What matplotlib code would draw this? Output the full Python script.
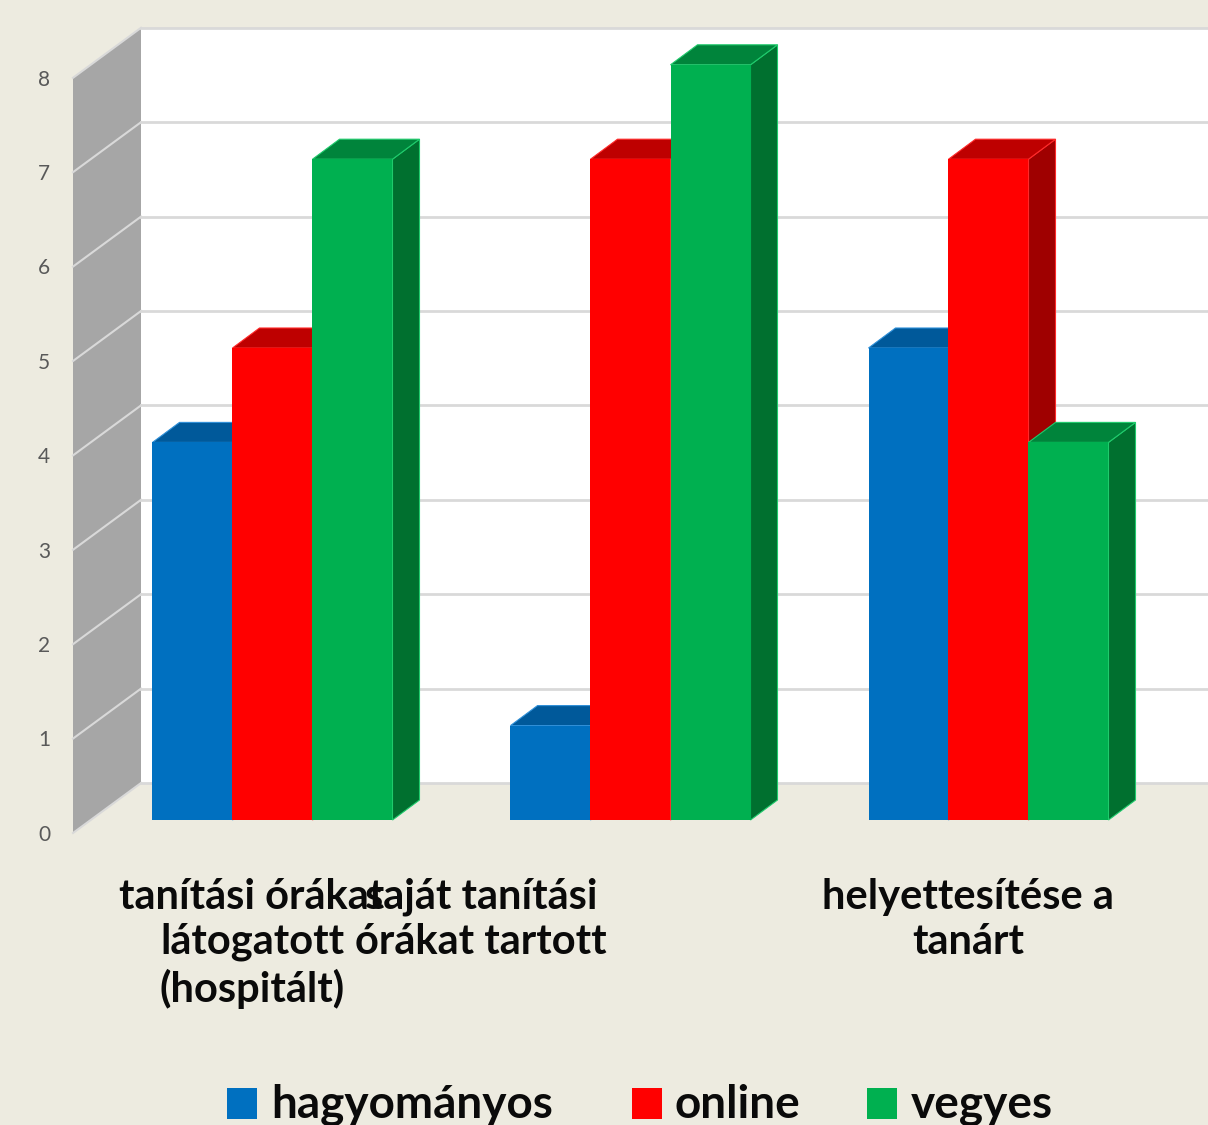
import matplotlib
matplotlib.use("Agg")
import matplotlib.pyplot as plt
import numpy as np

plt.rcParams['font.family'] = ['Lato', 'DejaVu Sans']

series_names = ['hagyományos', 'online', 'vegyes']
hagyomanyos = [4, 1, 5]
online = [5, 7, 7]
vegyes = [7, 8, 4]
yticks = [0, 1, 2, 3, 4, 5, 6, 7, 8]
cat_labels = ['tanítási órákat\nlátogatott\n(hospitált)',
              'saját tanítási\nórákat tartott',
              'helyettesítése a\ntanárt']

front = ['#0070C0', '#FF0000', '#00B050']
top = ['#00599A', '#BE0000', '#00843B']
side = ['#005390', '#9F0000', '#00702F']
edge = ['#2E8FD8', '#FF2A2A', '#1FCB6C']
bg = '#EDEBE0'

W, H = 1208, 1125
x0, sx = 272.5, 358.0   # pixel of group 0, pixels per group
y0, sy = 820.0, 94.4    # pixel of value 0, pixels per unit
bar_w = 80 / sx
dx, dy = 27 / sx, 20 / sy


def X(px):
    return (px - x0) / sx


def Y(py):
    return (y0 - py) / sy


fig = plt.figure(figsize=(W / 100, H / 100), dpi=100, facecolor=bg)
ax = fig.add_axes([0, 0, 1, 1])
ax.set_xlim(X(0), X(W))
ax.set_ylim(Y(H), Y(0))
ax.axis('off')

# back wall and left wall
wall_l, wall_b = X(141), Y(783)
front_l, front_b = X(73), Y(833)
ymax = yticks[-1]
ax.fill([wall_l, X(W), X(W), wall_l],
        [wall_b, wall_b, wall_b + ymax, wall_b + ymax], color='white', lw=0, zorder=1)
ax.fill([front_l, wall_l, wall_l, front_l],
        [front_b, wall_b, wall_b + ymax, front_b + ymax], color='#A6A6A6', lw=0, zorder=1)
for v in yticks:
    ax.plot([front_l, wall_l], [front_b + v, wall_b + v], color='#D9D9D9', lw=1.5, zorder=2)
    ax.plot([wall_l, X(W)], [wall_b + v, wall_b + v], color='#D9D9D9', lw=2, zorder=2)
    ax.text(X(44), front_b + v - 0.02, str(v), color='#595959', fontsize=15,
            ha='center', va='center', zorder=5)

# bars, left to right so every bar overlaps the side of the previous one
values = [hagyomanyos, online, vegyes]
z = 3
for g in range(3):
    for i in range(3):
        v = values[i][g]
        left = g + (i - 1.5) * bar_w
        right = left + bar_w
        ax.fill([right, right + dx, right + dx, right], [0, dy, v + dy, v],
                facecolor=side[i], edgecolor=edge[i], lw=0.8, zorder=z)
        ax.fill([left, right, right + dx, left + dx], [v, v, v + dy, v + dy],
                facecolor=top[i], edgecolor=edge[i], lw=0.8, zorder=z)
        ax.bar(left, v, width=bar_w, align='edge', color=front[i], lw=0, zorder=z)
        z += 1

# category labels sit where the chart put them, not under the bars
label_x = [252, 481, 968]
for px, lab in zip(label_x, cat_labels):
    ax.text(X(px), Y(878), lab, fontsize=30, fontweight='bold', color='#0A0A0A',
            ha='center', va='top', linespacing=1.22, zorder=20)

# legend
leg_sq = [227, 632, 867]
leg_tx = [271, 675, 911]
for i, name in enumerate(series_names):
    ax.add_patch(plt.Rectangle((X(leg_sq[i]), Y(1119)), 30 / sx, 31 / sy,
                               facecolor=front[i], lw=0, zorder=20))
    ax.text(X(leg_tx[i]), Y(1118), name, fontsize=33, fontweight='bold', color='#0A0A0A',
            ha='left', va='baseline', zorder=20)

fig.savefig('out.png', dpi=100, facecolor=bg)
